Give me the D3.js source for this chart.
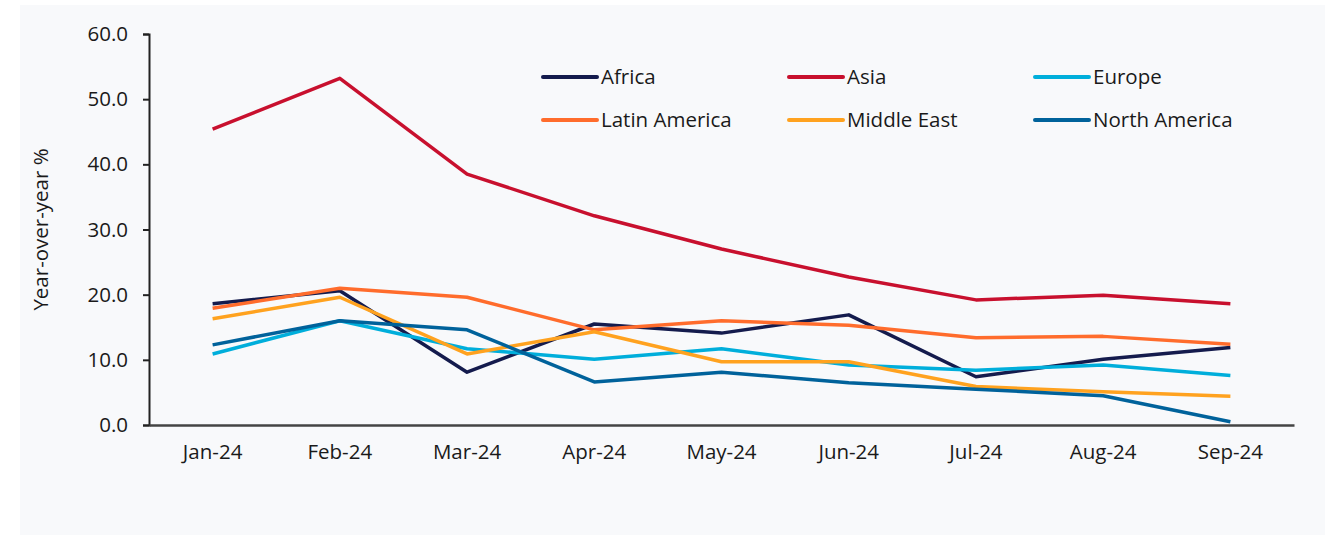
<!DOCTYPE html>
<html>
<head>
<meta charset="utf-8">
<script src="https://cdn.jsdelivr.net/npm/d3@7/dist/d3.min.js"></script>
<style>
  html, body { margin: 0; padding: 0; background: #ffffff; }
  svg { display: block; }
  text { font-family: "Open Sans", Lato, sans-serif; fill: #1a1a1a; }
</style>
</head>
<body>
<svg id="chart" width="1340" height="535"></svg>
<script>
// Monthly year-over-year growth by region (%)
const months = ["Jan-24", "Feb-24", "Mar-24", "Apr-24", "May-24", "Jun-24", "Jul-24", "Aug-24", "Sep-24"];
const regions = ["Africa", "Asia", "Europe", "Latin America", "Middle East", "North America"];
const africa       = [18.6, 20.6, 8.1, 15.5, 14.1, 16.9, 7.4, 10.1, 11.9];
const asia         = [45.4, 53.2, 38.5, 32.1, 27.0, 22.7, 19.2, 19.9, 18.6];
const europe       = [10.9, 16.0, 11.7, 10.1, 11.7, 9.2, 8.4, 9.2, 7.6];
const latinAmerica = [17.9, 21.0, 19.6, 14.6, 16.0, 15.3, 13.4, 13.6, 12.4];
const middleEast   = [16.3, 19.6, 10.9, 14.3, 9.7, 9.7, 5.9, 5.1, 4.4];
const northAmerica = [12.3, 16.0, 14.6, 6.6, 8.1, 6.5, 5.5, 4.5, 0.5];
const yTicks = [0, 10, 20, 30, 40, 50, 60];
const colors = ["#141b4d", "#c8102e", "#00aedb", "#ff6c2c", "#ffa21f", "#00629b"];

const seriesValues = [africa, asia, europe, latinAmerica, middleEast, northAmerica];
const series = regions.map((name, i) => ({ name, values: seriesValues[i], color: colors[i] }));

const svg = d3.select("#chart");

// Light panel behind the chart
svg.append("rect")
  .attr("x", 20).attr("y", 5)
  .attr("width", 1305).attr("height", 530)
  .attr("fill", "#f8f9fb");

const plot = { left: 149, right: 1294, top: 34, bottom: 425 };

const x = d3.scaleBand().domain(months).range([plot.left, plot.right]);
const y = d3.scaleLinear().domain([0, 60]).range([plot.bottom, plot.top]);

// Y axis
const yAxis = svg.append("g")
  .attr("transform", `translate(${plot.left},0)`)
  .call(d3.axisLeft(y).tickValues(yTicks).tickFormat(d3.format(".1f")).tickSize(6).tickPadding(15));
yAxis.select(".domain").attr("stroke", "#222").attr("stroke-width", 2);
yAxis.selectAll(".tick line").attr("stroke", "#222").attr("stroke-width", 2);
yAxis.selectAll("text").style("font-size", "20.5px").attr("fill", "#1a1a1a");

// X axis
const xAxis = svg.append("g")
  .attr("transform", `translate(0,${plot.bottom})`)
  .call(d3.axisBottom(x).tickSize(0).tickPadding(19));
xAxis.select(".domain").attr("stroke", "#444").attr("stroke-width", 2.5);
xAxis.selectAll("text").style("font-size", "20.5px").attr("fill", "#1a1a1a");

// Axis title
svg.append("text")
  .attr("transform", `translate(48,${(plot.top + plot.bottom) / 2}) rotate(-90)`)
  .attr("text-anchor", "middle")
  .style("font-size", "20.5px")
  .text("Year-over-year %");

// Lines
const line = d3.line()
  .x((d, i) => x(months[i]) + x.bandwidth() / 2)
  .y(d => y(d));

svg.append("g").selectAll("path")
  .data(series)
  .join("path")
  .attr("d", d => line(d.values))
  .attr("fill", "none")
  .attr("stroke", d => d.color)
  .attr("stroke-width", 3.5)
  .attr("stroke-linejoin", "round");

// Legend (3 columns x 2 rows)
const legend = svg.append("g");
series.forEach((s, i) => {
  const col = i % 3, row = Math.floor(i / 3);
  const gx = 543 + col * 246, gy = 77 + row * 43;
  legend.append("line")
    .attr("x1", gx).attr("x2", gx + 54)
    .attr("y1", gy).attr("y2", gy)
    .attr("stroke", s.color).attr("stroke-width", 4).attr("stroke-linecap", "round");
  legend.append("text")
    .attr("x", gx + 58).attr("y", gy)
    .attr("dy", "0.35em")
    .style("font-size", "20.5px")
    .text(s.name);
});
</script>
</body>
</html>
